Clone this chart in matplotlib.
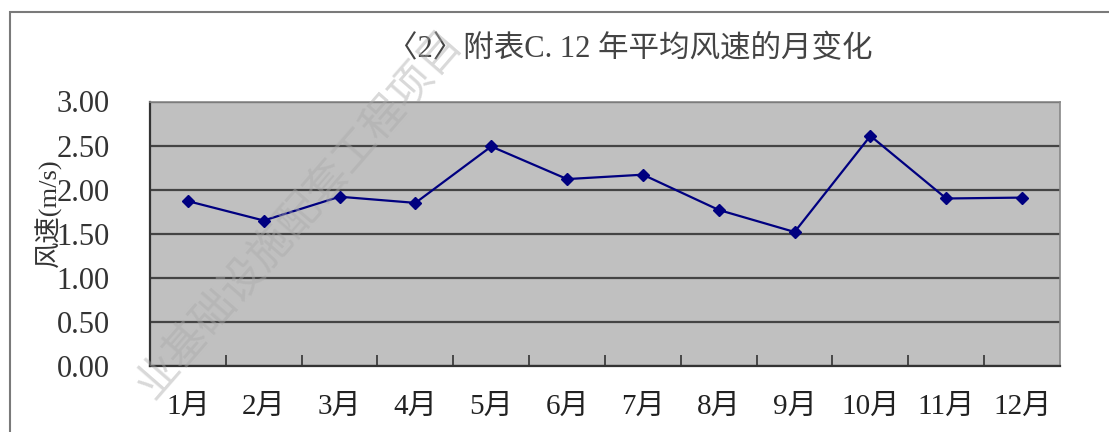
import numpy as np
import matplotlib
matplotlib.use('Agg')
import matplotlib.pyplot as plt
from matplotlib.patches import Rectangle

plt.rcParams['font.family'] = ['Liberation Serif', 'Noto Sans CJK SC', 'DejaVu Sans']

#%% Daten
months = ['1月', '2月', '3月', '4月', '5月', '6月',
          '7月', '8月', '9月', '10月', '11月', '12月']
wind_speed = [1.87, 1.65, 1.92, 1.85, 2.49, 2.12,
              2.17, 1.77, 1.52, 2.61, 1.90, 1.91]
y_ticks = [0.0, 0.5, 1.0, 1.5, 2.0, 2.5, 3.0]
title = '〈2〉附表C. 12 年平均风速的月变化'
y_label = '风速(m/s)'
watermark = '业基础设施配套工程项目'

#%% Plot
fig = plt.figure(figsize=(11.09, 4.32), dpi=100)
ax = fig.add_axes([150/1109, 1-366/432, 910/1109, 264.5/432])
ax.set_facecolor('#c0c0c0')

x = np.arange(len(months))
ax.plot(x, wind_speed, color='#000080', lw=1.6, marker='D', ms=6.5,
        zorder=3)

ax.set_xlim(-0.5, len(months)-0.5)
ax.set_ylim(0, 3.0)
ax.set_yticks(y_ticks)
ax.set_yticklabels(['%.2f' % v for v in y_ticks])
ax.yaxis.grid(True, color='#444444', lw=1.6)
ax.set_axisbelow(True)

ax.set_xticks(x)
ax.set_xticklabels(months)
ax.set_xticks(np.arange(0.5, len(months)-0.5, 1), minor=True)
ax.tick_params(axis='x', which='major', length=0, pad=20,
               labelsize=21, labelcolor='#222222')
ax.tick_params(axis='x', which='minor', direction='in', length=8,
               width=1.2, color='#333333')
ax.tick_params(axis='y', length=0, pad=29, labelsize=22,
               labelcolor='#333333')

for s in ['left', 'bottom']:
    ax.spines[s].set_color('#333333')
    ax.spines[s].set_linewidth(1.6)
for s in ['top', 'right']:
    ax.spines[s].set_color('#888888')
    ax.spines[s].set_linewidth(1.2)

fig.text(630/1109, 1-50/432, title, ha='center', va='center',
         fontsize=22, color='#444444')
fig.text(48/1109, 1-213/432, y_label, ha='center', va='center',
         rotation=90, fontsize=19, color='#333333')

# aeusserer Rahmen
fig.patches.append(Rectangle((9.5/1109, -0.1), 1.2, 1.1-12/432,
                             transform=fig.transFigure, fill=False,
                             edgecolor='#7a7a7a', lw=1.5))

# Wasserzeichen
fig.text(300/1109, 1-214/432, watermark, ha='center', va='center',
         rotation=49, fontsize=31, color='#aaaaaa', alpha=0.45,
         family=['Noto Sans CJK SC'], zorder=10)

fig.savefig('out.png', dpi=100)
